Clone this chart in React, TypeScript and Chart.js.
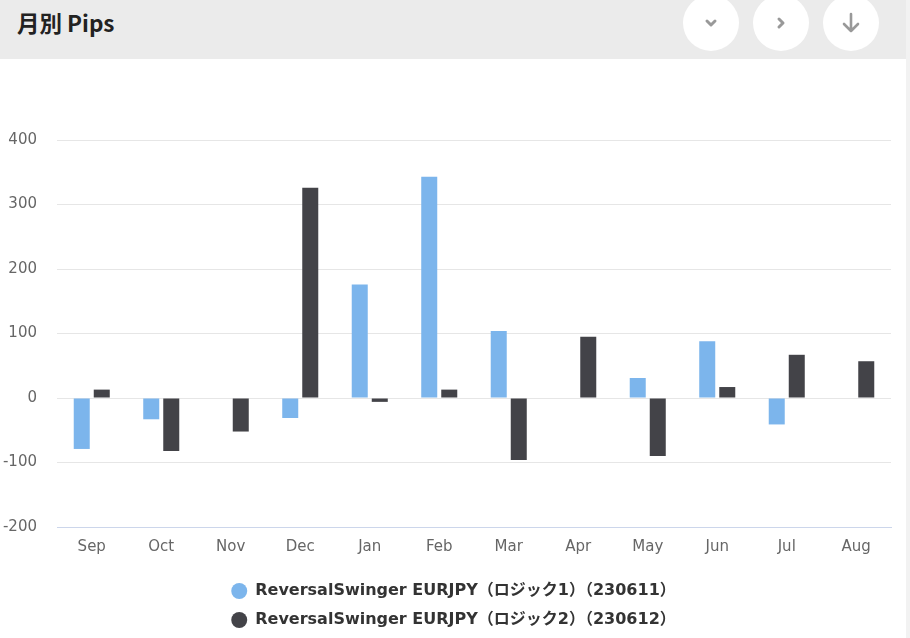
import React, { useEffect, useRef } from "react";
import { Chart, registerables } from "chart.js";

Chart.register(...registerables);

const months = ["Sep", "Oct", "Nov", "Dec", "Jan", "Feb", "Mar", "Apr", "May", "Jun", "Jul", "Aug"];
const logic1 = [-79, -33, null, -31, 176, 343, 104, null, 31, 88, -41, null];
const logic2 = [13, -82, -52, 326, -6, 13, -96, 95, -90, 17, 67, 57];
const yTicks = [-200, -100, 0, 100, 200, 300, 400];
const seriesNames = [
  "ReversalSwinger EURJPY（ロジック1）（230611）",
  "ReversalSwinger EURJPY（ロジック2）（230612）",
];

const AXIS_FONT = "'DejaVu Sans', 'Noto Sans CJK JP', sans-serif";
const LEGEND_FONT = "'DejaVu Sans', 'Noto Sans CJK JP', sans-serif";

const legendShift = {
  id: "legendShift",
  afterLayout(chart: any) {
    if (chart.legend) {
      chart.legend.left += 8;
      chart.legend.right += 8;
    }
  },
};

function ChartBox() {
  const ref = useRef<HTMLCanvasElement | null>(null);
  useEffect(() => {
    if (!ref.current) return;
    const chart = new Chart(ref.current, {
      type: "bar",
      data: {
        labels: months,
        datasets: [
          {
            label: seriesNames[0],
            data: logic1,
            backgroundColor: "#7cb5ec",
            categoryPercentage: 0.576,
            barPercentage: 0.8,
          },
          {
            label: seriesNames[1],
            data: logic2,
            backgroundColor: "#434348",
            categoryPercentage: 0.576,
            barPercentage: 0.8,
          },
        ],
      },
      plugins: [legendShift],
      options: {
        animation: false,
        responsive: false,
        maintainAspectRatio: false,
        layout: { padding: { top: 81, left: 0, right: 15, bottom: 0 } },
        plugins: {
          tooltip: { enabled: false },
          legend: {
            position: "bottom",
            labels: {
              usePointStyle: true,
              pointStyle: "circle",
              boxWidth: 16,
              boxHeight: 11.3,
              padding: 13,
              color: "#333333",
              font: { family: LEGEND_FONT, size: 16, weight: "bold" },
            },
          },
        },
        scales: {
          x: {
            grid: { display: false, drawTicks: false },
            border: { display: true, color: "#ccd6eb", width: 1 },
            ticks: { color: "#666666", font: { family: AXIS_FONT, size: 15 }, padding: 11 },
            afterFit: (axis: any) => {
              axis.height = 43;
            },
          },
          y: {
            min: -200,
            max: 400,
            afterBuildTicks: (axis: any) => {
              axis.ticks = yTicks.map((v) => ({ value: v }));
            },
            afterFit: (axis: any) => {
              axis.width = 57;
            },
            grid: {
              color: (c: any) => (c.tick && c.tick.value === yTicks[0] ? "#ccd6eb" : "#e6e6e6"),
              drawTicks: false,
            },
            border: { display: false },
            ticks: { color: "#666666", font: { family: AXIS_FONT, size: 15 }, padding: 20 },
          },
        },
      },
    });
    return () => chart.destroy();
  }, []);
  return <canvas ref={ref} width={906} height={579} style={{ display: "block" }} />;
}

function Btn({ glyph }: { glyph: React.ReactNode }) {
  return (
    <div
      style={{
        position: "absolute",
        width: 56,
        height: 56,
        borderRadius: "50%",
        background: "#ffffff",
        display: "flex",
        alignItems: "center",
        justifyContent: "center",
        top: -5,
      }}
    >
      {glyph}
    </div>
  );
}

export default function App() {
  useEffect(() => {
    document.body.style.margin = "0";
  }, []);
  const chev = (d: string) => (
    <svg width="16" height="16" viewBox="0 0 16 16">
      <path d={d} fill="none" stroke="#999999" strokeWidth="3" strokeLinecap="round" strokeLinejoin="round" />
    </svg>
  );
  return (
    <div style={{ width: 910, height: 638, position: "relative", background: "#f2f2f2", overflow: "hidden" }}>
      <div style={{ position: "absolute", left: 0, top: 0, width: 906, height: 59, background: "#ebebeb" }}>
        <div
          style={{
            position: "absolute",
            left: 17,
            top: 6,
            fontFamily: "'Noto Sans CJK JP', sans-serif",
            fontWeight: 700,
            fontSize: 22.5,
            color: "#222222",
            lineHeight: "32px",
          }}
        >
          月別 Pips
        </div>
        <div style={{ position: "absolute", left: 683, top: 0 }}>
          <Btn glyph={chev("M4 6 L8 10 L12 6")} />
        </div>
        <div style={{ position: "absolute", left: 753, top: 0 }}>
          <Btn glyph={chev("M6 4 L10 8 L6 12")} />
        </div>
        <div style={{ position: "absolute", left: 823, top: 0 }}>
          <Btn
            glyph={
              <svg width="20" height="22" viewBox="0 0 20 22">
                <path d="M10 2 L10 19 M3 12 L10 19 L17 12" fill="none" stroke="#999999" strokeWidth="2.6" strokeLinecap="round" strokeLinejoin="round" />
              </svg>
            }
          />
        </div>
      </div>
      <div style={{ position: "absolute", left: 0, top: 59, width: 906, height: 579, background: "#ffffff" }}>
        <ChartBox />
      </div>
    </div>
  );
}
